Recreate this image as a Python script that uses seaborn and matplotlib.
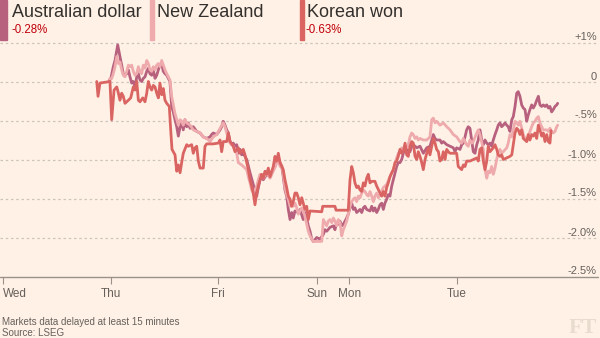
import matplotlib
matplotlib.use("Agg")
import matplotlib.pyplot as plt
import pandas as pd
import seaborn as sns
from matplotlib import font_manager
from matplotlib.patches import Rectangle
from matplotlib.transforms import blended_transform_factory

# Trading-session position (Wed = 0, Thu = 1, ... weekend compressed) and % change
aud_day = [0.989, 1.002, 1.026, 1.042, 1.058, 1.067, 1.082, 1.095, 1.104, 1.119, 1.135, 1.151, 1.166, 1.181, 1.197,
           1.212, 1.228, 1.244, 1.259, 1.274, 1.290, 1.305, 1.321, 1.337, 1.352, 1.367, 1.383, 1.398, 1.414, 1.430,
           1.445, 1.460, 1.476, 1.491, 1.507, 1.523, 1.538, 1.553, 1.569, 1.584, 1.600, 1.616, 1.631, 1.647, 1.662,
           1.677, 1.693, 1.709, 1.724, 1.740, 1.770, 1.802, 1.833, 1.863, 1.895, 1.926, 1.941, 1.956, 1.988, 2.019,
           2.034, 2.049, 2.065, 2.081, 2.096, 2.112, 2.128, 2.142, 2.158, 2.174, 2.189, 2.205, 2.220, 2.235, 2.267,
           2.298, 2.328, 2.344, 2.360, 2.375, 2.391, 2.406, 2.421, 2.453, 2.484, 2.514, 2.530, 2.546, 2.561, 2.577,
           2.593, 2.607, 2.623, 2.639, 2.654, 2.670, 2.686, 2.700, 2.716, 2.747, 2.763, 2.793, 2.809, 2.825, 2.840,
           2.856, 2.872, 2.887, 2.918, 2.949, 2.980, 2.995, 3.011, 3.042, 3.073, 3.088, 3.104, 3.119, 3.135, 3.151,
           3.166, 3.181, 3.197, 3.212, 3.228, 3.244, 3.259, 3.274, 3.290, 3.321, 3.337, 3.352, 3.367, 3.383, 3.414,
           3.430, 3.445, 3.460, 3.476, 3.491, 3.507, 3.523, 3.538, 3.553, 3.569, 3.584, 3.600, 3.616, 3.631, 3.647,
           3.662, 3.677, 3.693, 3.709, 3.724, 3.740, 3.755, 3.786, 3.802, 3.817, 3.849, 3.879, 3.910, 3.942, 3.972,
           3.988, 4.003, 4.019, 4.034, 4.065, 4.081, 4.096, 4.128, 4.158, 4.189, 4.205, 4.220, 4.251, 4.267, 4.282,
           4.298, 4.313, 4.328, 4.344, 4.360, 4.375, 4.391, 4.407, 4.421, 4.437, 4.453, 4.468, 4.484, 4.500, 4.514,
           4.530, 4.546, 4.561, 4.577, 4.593, 4.607, 4.623, 4.639, 4.654, 4.670, 4.686, 4.700, 4.716, 4.733, 4.747,
           4.763, 4.779, 4.793, 4.809, 4.825, 4.840, 4.856, 4.872, 4.886, 4.902, 4.918, 4.933, 4.949, 4.965, 4.980,
           4.995, 5.011, 5.026, 5.042, 5.058, 5.073, 5.088, 5.104, 5.119, 5.135, 5.151, 5.160]
aud_chg = [0.02, 0.03, 0.19, 0.27, 0.40, 0.47, 0.36, 0.27, 0.21, 0.10, 0.08, 0.10, 0.15, 0.06, -0.02,
           0.00, -0.07, 0.06, 0.10, 0.02, 0.00, 0.04, 0.06, 0.13, 0.17, 0.10, 0.08, 0.15, 0.04, 0.08,
           0.15, 0.21, 0.23, 0.13, 0.10, 0.08, 0.04, 0.00, -0.32, -0.39, -0.49, -0.58, -0.70, -0.58, -0.53,
           -0.62, -0.49, -0.58, -0.53, -0.60, -0.58, -0.64, -0.66, -0.71, -0.73, -0.71, -0.68, -0.66, -0.68, -0.62,
           -0.58, -0.51, -0.56, -0.62, -0.66, -0.77, -0.81, -0.79, -0.83, -0.81, -0.92, -0.87, -0.94, -0.92, -1.00,
           -1.17, -1.32, -1.41, -1.47, -1.36, -1.26, -1.22, -1.26, -1.19, -1.22, -1.13, -1.09, -1.02, -0.98, -1.04,
           -1.09, -1.22, -1.39, -1.47, -1.64, -1.77, -1.68, -1.75, -1.66, -1.68, -1.64, -1.77, -1.68, -1.75, -1.85,
           -1.92, -2.02, -2.05, -2.00, -2.02, -1.96, -1.90, -1.92, -1.87, -1.85, -1.90, -1.81, -1.83, -1.79, -1.85,
           -1.83, -1.79, -1.75, -1.70, -1.62, -1.56, -1.64, -1.62, -1.68, -1.64, -1.68, -1.62, -1.60, -1.64, -1.66,
           -1.60, -1.66, -1.62, -1.68, -1.64, -1.58, -1.56, -1.64, -1.56, -1.51, -1.45, -1.47, -1.34, -1.26, -1.17,
           -1.09, -1.04, -1.04, -1.00, -0.92, -0.85, -0.87, -0.90, -0.83, -0.81, -0.85, -0.83, -0.92, -0.85, -0.83,
           -0.75, -0.68, -0.73, -0.75, -0.75, -0.79, -0.77, -0.81, -0.83, -0.85, -0.90, -0.85, -0.87, -0.81, -0.79,
           -0.71, -0.62, -0.58, -0.60, -0.75, -0.90, -0.92, -0.81, -0.75, -0.62, -0.75, -0.81, -0.75, -0.79, -0.81,
           -0.79, -0.83, -0.75, -0.68, -0.62, -0.56, -0.53, -0.58, -0.56, -0.53, -0.56, -0.58, -0.64, -0.49, -0.45,
           -0.32, -0.15, -0.13, -0.19, -0.30, -0.34, -0.36, -0.51, -0.43, -0.36, -0.30, -0.34, -0.30, -0.24, -0.19,
           -0.30, -0.32, -0.30, -0.32, -0.30, -0.34, -0.32, -0.39, -0.36, -0.32, -0.30, -0.28]

nzd_day = [0.989, 1.011, 1.026, 1.042, 1.058, 1.073, 1.088, 1.104, 1.119, 1.135, 1.151, 1.166, 1.181, 1.197, 1.212,
           1.228, 1.244, 1.259, 1.274, 1.290, 1.305, 1.321, 1.337, 1.352, 1.367, 1.383, 1.398, 1.414, 1.430, 1.445,
           1.460, 1.476, 1.491, 1.507, 1.523, 1.538, 1.553, 1.569, 1.584, 1.600, 1.616, 1.631, 1.647, 1.662, 1.677,
           1.693, 1.709, 1.740, 1.770, 1.802, 1.833, 1.863, 1.895, 1.926, 1.956, 1.988, 2.019, 2.049, 2.065, 2.081,
           2.112, 2.142, 2.174, 2.189, 2.220, 2.251, 2.267, 2.282, 2.298, 2.313, 2.328, 2.344, 2.360, 2.375, 2.391,
           2.421, 2.453, 2.484, 2.514, 2.546, 2.561, 2.577, 2.593, 2.607, 2.623, 2.639, 2.654, 2.670, 2.686, 2.700,
           2.716, 2.732, 2.747, 2.763, 2.779, 2.793, 2.809, 2.825, 2.840, 2.856, 2.872, 2.887, 2.965, 2.980, 2.995,
           3.011, 3.026, 3.042, 3.058, 3.073, 3.088, 3.104, 3.119, 3.135, 3.151, 3.166, 3.181, 3.197, 3.212, 3.228,
           3.244, 3.259, 3.274, 3.290, 3.305, 3.321, 3.337, 3.352, 3.367, 3.383, 3.398, 3.414, 3.430, 3.445, 3.460,
           3.476, 3.491, 3.507, 3.538, 3.569, 3.600, 3.631, 3.662, 3.677, 3.693, 3.709, 3.724, 3.740, 3.755, 3.770,
           3.786, 3.802, 3.817, 3.833, 3.849, 3.863, 3.879, 3.910, 3.942, 3.972, 3.988, 4.003, 4.019, 4.034, 4.065,
           4.096, 4.128, 4.158, 4.189, 4.220, 4.251, 4.267, 4.282, 4.313, 4.328, 4.344, 4.360, 4.375, 4.407, 4.421,
           4.437, 4.468, 4.484, 4.500, 4.514, 4.530, 4.546, 4.561, 4.577, 4.593, 4.607, 4.623, 4.639, 4.654, 4.686,
           4.700, 4.716, 4.733, 4.747, 4.763, 4.779, 4.793, 4.809, 4.825, 4.840, 4.856, 4.872, 4.886, 4.902, 4.918,
           4.933, 4.949, 4.965, 4.980, 4.995, 5.011, 5.026, 5.058, 5.073, 5.088, 5.104, 5.119, 5.135, 5.151, 5.160]
nzd_chg = [0.03, 0.04, 0.10, 0.19, 0.32, 0.23, 0.25, 0.15, 0.08, 0.06, 0.13, 0.21, 0.19, 0.21, 0.13,
           0.08, 0.10, 0.19, 0.13, 0.10, 0.21, 0.17, 0.27, 0.23, 0.15, 0.13, 0.19, 0.15, 0.21, 0.23,
           0.19, 0.27, 0.21, 0.15, 0.10, 0.06, 0.02, -0.19, -0.30, -0.41, -0.49, -0.56, -0.49, -0.51, -0.56,
           -0.49, -0.53, -0.56, -0.62, -0.64, -0.66, -0.71, -0.73, -0.77, -0.71, -0.68, -0.60, -0.53, -0.58, -0.66,
           -0.79, -0.83, -0.92, -1.04, -1.07, -1.11, -1.13, -1.22, -1.30, -1.39, -1.43, -1.39, -1.34, -1.26, -1.19,
           -1.24, -1.17, -1.24, -1.15, -1.05, -1.00, -1.09, -1.07, -1.19, -1.36, -1.45, -1.51, -1.60, -1.54, -1.60,
           -1.56, -1.62, -1.70, -1.66, -1.62, -1.66, -1.73, -1.83, -1.92, -1.98, -2.02, -2.05, -2.05, -1.77, -1.81,
           -1.85, -1.79, -1.77, -1.81, -1.75, -1.79, -1.85, -1.77, -1.81, -1.98, -1.90, -1.85, -1.79, -1.70, -1.60,
           -1.54, -1.51, -1.49, -1.54, -1.47, -1.49, -1.43, -1.39, -1.41, -1.45, -1.47, -1.41, -1.47, -1.54, -1.47,
           -1.43, -1.49, -1.45, -1.36, -1.32, -1.22, -1.13, -0.98, -0.92, -0.90, -0.85, -0.87, -0.83, -0.85, -0.81,
           -0.71, -0.66, -0.68, -0.73, -0.71, -0.75, -0.73, -0.75, -0.75, -0.71, -0.49, -0.47, -0.53, -0.51, -0.56,
           -0.53, -0.58, -0.62, -0.68, -0.71, -0.77, -0.79, -0.73, -0.81, -0.83, -0.75, -0.79, -0.77, -0.66, -0.62,
           -0.68, -0.87, -1.13, -1.24, -1.15, -1.17, -1.09, -1.19, -1.11, -1.00, -0.90, -0.87, -0.92, -0.90, -0.85,
           -0.79, -0.68, -0.71, -0.62, -0.51, -0.53, -0.56, -0.51, -0.60, -0.68, -0.73, -0.77, -0.71, -0.64, -0.58,
           -0.53, -0.51, -0.47, -0.45, -0.53, -0.58, -0.62, -0.62, -0.64, -0.60, -0.64, -0.66, -0.64, -0.58, -0.56]

krw_day = [0.872, 0.884, 0.902, 0.995, 1.011, 1.033, 1.058, 1.070, 1.088, 1.104, 1.119, 1.135, 1.151, 1.166, 1.188,
           1.212, 1.228, 1.244, 1.259, 1.274, 1.300, 1.321, 1.337, 1.352, 1.367, 1.383, 1.398, 1.414, 1.430, 1.445,
           1.460, 1.476, 1.491, 1.507, 1.523, 1.547, 1.560, 1.572, 1.600, 1.616, 1.631, 1.647, 1.662, 1.677, 1.709,
           1.724, 1.755, 1.770, 1.786, 1.802, 1.817, 1.833, 1.863, 1.879, 1.895, 1.953, 2.003, 2.019, 2.034, 2.049,
           2.081, 2.096, 2.112, 2.142, 2.158, 2.189, 2.205, 2.235, 2.251, 2.267, 2.282, 2.298, 2.313, 2.328, 2.344,
           2.360, 2.375, 2.391, 2.406, 2.421, 2.437, 2.453, 2.468, 2.484, 2.514, 2.530, 2.546, 2.561, 2.577, 2.593,
           2.607, 2.623, 2.639, 2.654, 2.670, 2.686, 2.700, 2.716, 2.732, 2.747, 2.763, 2.779, 2.793, 2.809, 2.825,
           2.840, 2.856, 2.965, 2.974, 3.088, 3.098, 3.212, 3.228, 3.244, 3.259, 3.274, 3.290, 3.305, 3.321, 3.337,
           3.352, 3.367, 3.383, 3.398, 3.414, 3.430, 3.460, 3.476, 3.507, 3.523, 3.538, 3.553, 3.569, 3.584, 3.600,
           3.616, 3.631, 3.647, 3.662, 3.677, 3.693, 3.709, 3.724, 3.740, 3.755, 3.770, 3.786, 3.802, 3.817, 3.833,
           3.849, 3.863, 3.879, 3.895, 3.910, 3.926, 3.942, 3.956, 3.972, 3.988, 4.003, 4.019, 4.034, 4.050, 4.065,
           4.081, 4.096, 4.112, 4.128, 4.142, 4.158, 4.220, 4.235, 4.251, 4.267, 4.282, 4.298, 4.313, 4.344, 4.375,
           4.407, 4.421, 4.437, 4.453, 4.468, 4.484, 4.500, 4.514, 4.530, 4.561, 4.577, 4.593, 4.607, 4.623, 4.639,
           4.654, 4.686, 4.716, 4.733, 4.747, 4.763, 4.779, 4.793, 4.809, 4.825, 4.840, 4.856, 4.872, 4.886, 4.902,
           4.918, 4.933, 4.949, 4.965, 4.980, 4.995, 5.011, 5.026, 5.042, 5.058, 5.073, 5.088, 5.098]
krw_chg = [0.00, -0.19, -0.02, 0.00, -0.49, -0.11, -0.07, -0.13, -0.24, -0.15, -0.19, -0.28, -0.26, -0.24, -0.21,
           -0.07, -0.11, 0.00, -0.24, -0.26, -0.21, -0.26, -0.15, 0.00, -0.07, -0.11, -0.05, -0.07, -0.15, -0.21,
           -0.02, -0.17, -0.09, -0.24, -0.28, -0.32, -0.62, -0.87, -0.94, -1.15, -1.07, -1.17, -1.04, -0.92, -0.81,
           -0.83, -0.81, -0.92, -0.85, -0.83, -1.02, -1.11, -1.11, -0.83, -0.80, -0.80, -0.79, -0.75, -0.90, -0.77,
           -0.77, -0.66, -0.77, -0.83, -0.90, -0.85, -0.92, -0.87, -0.94, -1.04, -1.13, -1.26, -1.34, -1.43, -1.58,
           -1.43, -1.34, -1.26, -1.19, -1.24, -1.15, -1.19, -1.11, -1.22, -1.09, -0.96, -1.02, -0.92, -1.04, -1.09,
           -1.13, -1.26, -1.36, -1.47, -1.51, -1.60, -1.54, -1.43, -1.43, -1.49, -1.58, -1.49, -1.56, -1.64, -1.60,
           -1.77, -1.66, -1.67, -1.60, -1.60, -1.65, -1.65, -1.26, -1.09, -1.17, -1.30, -1.36, -1.34, -1.39, -1.41,
           -1.30, -1.34, -1.24, -1.19, -1.30, -1.28, -1.28, -1.34, -1.43, -1.47, -1.41, -1.47, -1.36, -1.30, -1.22,
           -1.17, -1.13, -1.04, -1.02, -0.96, -0.87, -0.92, -0.90, -0.79, -0.94, -0.96, -0.83, -0.77, -0.79, -0.96,
           -1.00, -0.90, -0.96, -1.04, -1.13, -1.00, -0.92, -0.85, -0.94, -0.83, -0.73, -0.79, -0.87, -0.90, -1.02,
           -1.00, -0.90, -1.00, -0.87, -0.90, -0.92, -0.92, -1.09, -1.11, -1.13, -1.07, -1.09, -1.02, -1.02, -1.00,
           -0.98, -1.02, -0.87, -0.85, -1.02, -1.13, -1.02, -0.83, -0.90, -0.85, -0.81, -0.87, -0.94, -0.96, -0.94,
           -1.00, -0.98, -0.96, -0.94, -0.81, -0.66, -0.60, -0.62, -0.68, -0.62, -0.73, -0.75, -0.77, -0.68, -0.75,
           -0.68, -0.70, -0.66, -0.73, -0.56, -0.62, -0.70, -0.66, -0.77, -0.68, -0.77, -0.79, -0.63]

series_names = ["Australian dollar", "New Zealand", "Korean won"]
series_colors = ["#b8617f", "#eeaaac", "#da6462"]
latest_change = ["-0.28%", "", "-0.63%"]

tick_days = [0.0, 1.0, 2.0, 2.92, 3.22, 4.22]
tick_labels = ["Wed", "Thu", "Fri", "Sun", "Mon", "Tue"]
# gridline positions on the value scale, and the labels printed against them
pct_levels = [0.5, 0.0, -0.5, -1.0, -1.5, -2.0, -2.5]
pct_labels = ["+1%", "0", "-.5%", "-1.0%", "-1.5%", "-2.0%", "-2.5%"]

footnote = "Markets data delayed at least 15 minutes"
source = "Source: LSEG"

BG = "#fff1e5"
TEXT = "#66605c"
DARK = "#33302e"
GRID = "#cdc4bb"
AXIS = "#9a918a"
NEG = "#c0000b"

W, H = 600, 338

sns.set_theme(style="white")
installed = {f.name for f in font_manager.fontManager.ttflist}
base_font = next((f for f in ["Liberation Sans", "Roboto", "Open Sans"] if f in installed), "DejaVu Sans")
plt.rcParams["font.family"] = [base_font, "DejaVu Sans"]

fig = plt.figure(figsize=(W / 100, H / 100), dpi=100, facecolor=BG)
ax = fig.add_axes([0, 61.5 / H, 598 / W, 234 / H])
ax.set_facecolor(BG)

frames = [pd.DataFrame({"day": d, "change": c, "currency": n})
          for n, d, c in zip(series_names, [aud_day, nzd_day, krw_day], [aud_chg, nzd_chg, krw_chg])]
df = pd.concat(frames, ignore_index=True)

# horizontal reference lines
for lvl in pct_levels[:-1]:
    ax.axhline(lvl, color=GRID, lw=0.9, ls=(0, (2, 2.2)), zorder=0, clip_on=False)
ax.axhline(pct_levels[-1], color=AXIS, lw=1.0, zorder=1, clip_on=False)

sns.lineplot(data=df, x="day", y="change", hue="currency", hue_order=series_names,
             palette=dict(zip(series_names, series_colors)), estimator=None, sort=False,
             linewidth=2.0, legend=False, ax=ax, zorder=3)

ax.set_xlim(-0.028, 5.535)
ax.set_ylim(pct_levels[-1], pct_levels[0])
ax.set_xlabel("")
ax.set_ylabel("")
for s in ax.spines.values():
    s.set_visible(False)

ax.set_yticks([])
ax.set_xticks(tick_days, tick_labels)
ax.tick_params(axis="x", direction="out", length=5, width=0.8, color=AXIS, pad=3,
               labelsize=8.5, labelcolor=TEXT, bottom=True)
ax.get_xticklabels()[0].set_horizontalalignment("left")

# right-hand percentage labels sitting on their lines
trans = blended_transform_factory(ax.transAxes, ax.transData)
for lvl, lab in zip(pct_levels, pct_labels):
    ax.text(0.998, lvl, lab, transform=trans, ha="right", va="bottom",
            fontsize=8, color=TEXT, clip_on=False)

# header key
bar_x = [0, 150, 300]
bar_w = [7, 4, 4]
name_x = [12, 157, 307]
for bx, bw, nx, name, col, val in zip(bar_x, bar_w, name_x, series_names, series_colors, latest_change):
    fig.patches.append(Rectangle((bx / W, 1 - 40 / H), bw / W, 40 / H,
                                 transform=fig.transFigure, color=col, zorder=2))
    fig.text(nx / W, 1 - 17 / H, name, fontsize=13, color=DARK, va="baseline", ha="left")
    if val:
        fig.text((nx - 1) / W, 1 - 33 / H, val, fontsize=8.3, color=NEG, va="baseline", ha="left")

# footer
fig.text(2 / W, 1 - 325 / H, footnote, fontsize=7, color=TEXT, va="baseline", ha="left")
fig.text(2 / W, 1 - 336 / H, source, fontsize=7, color=TEXT, va="baseline", ha="left")
serif = next((f for f in ["Liberation Serif", "DejaVu Serif"] if f in installed), "serif")
fig.text(597 / W, 1 - 333 / H, "FT", fontsize=16, fontweight="bold", family=serif,
         color="#e8dccf", va="baseline", ha="right")

fig.savefig("out.png", dpi=100, facecolor=BG)
